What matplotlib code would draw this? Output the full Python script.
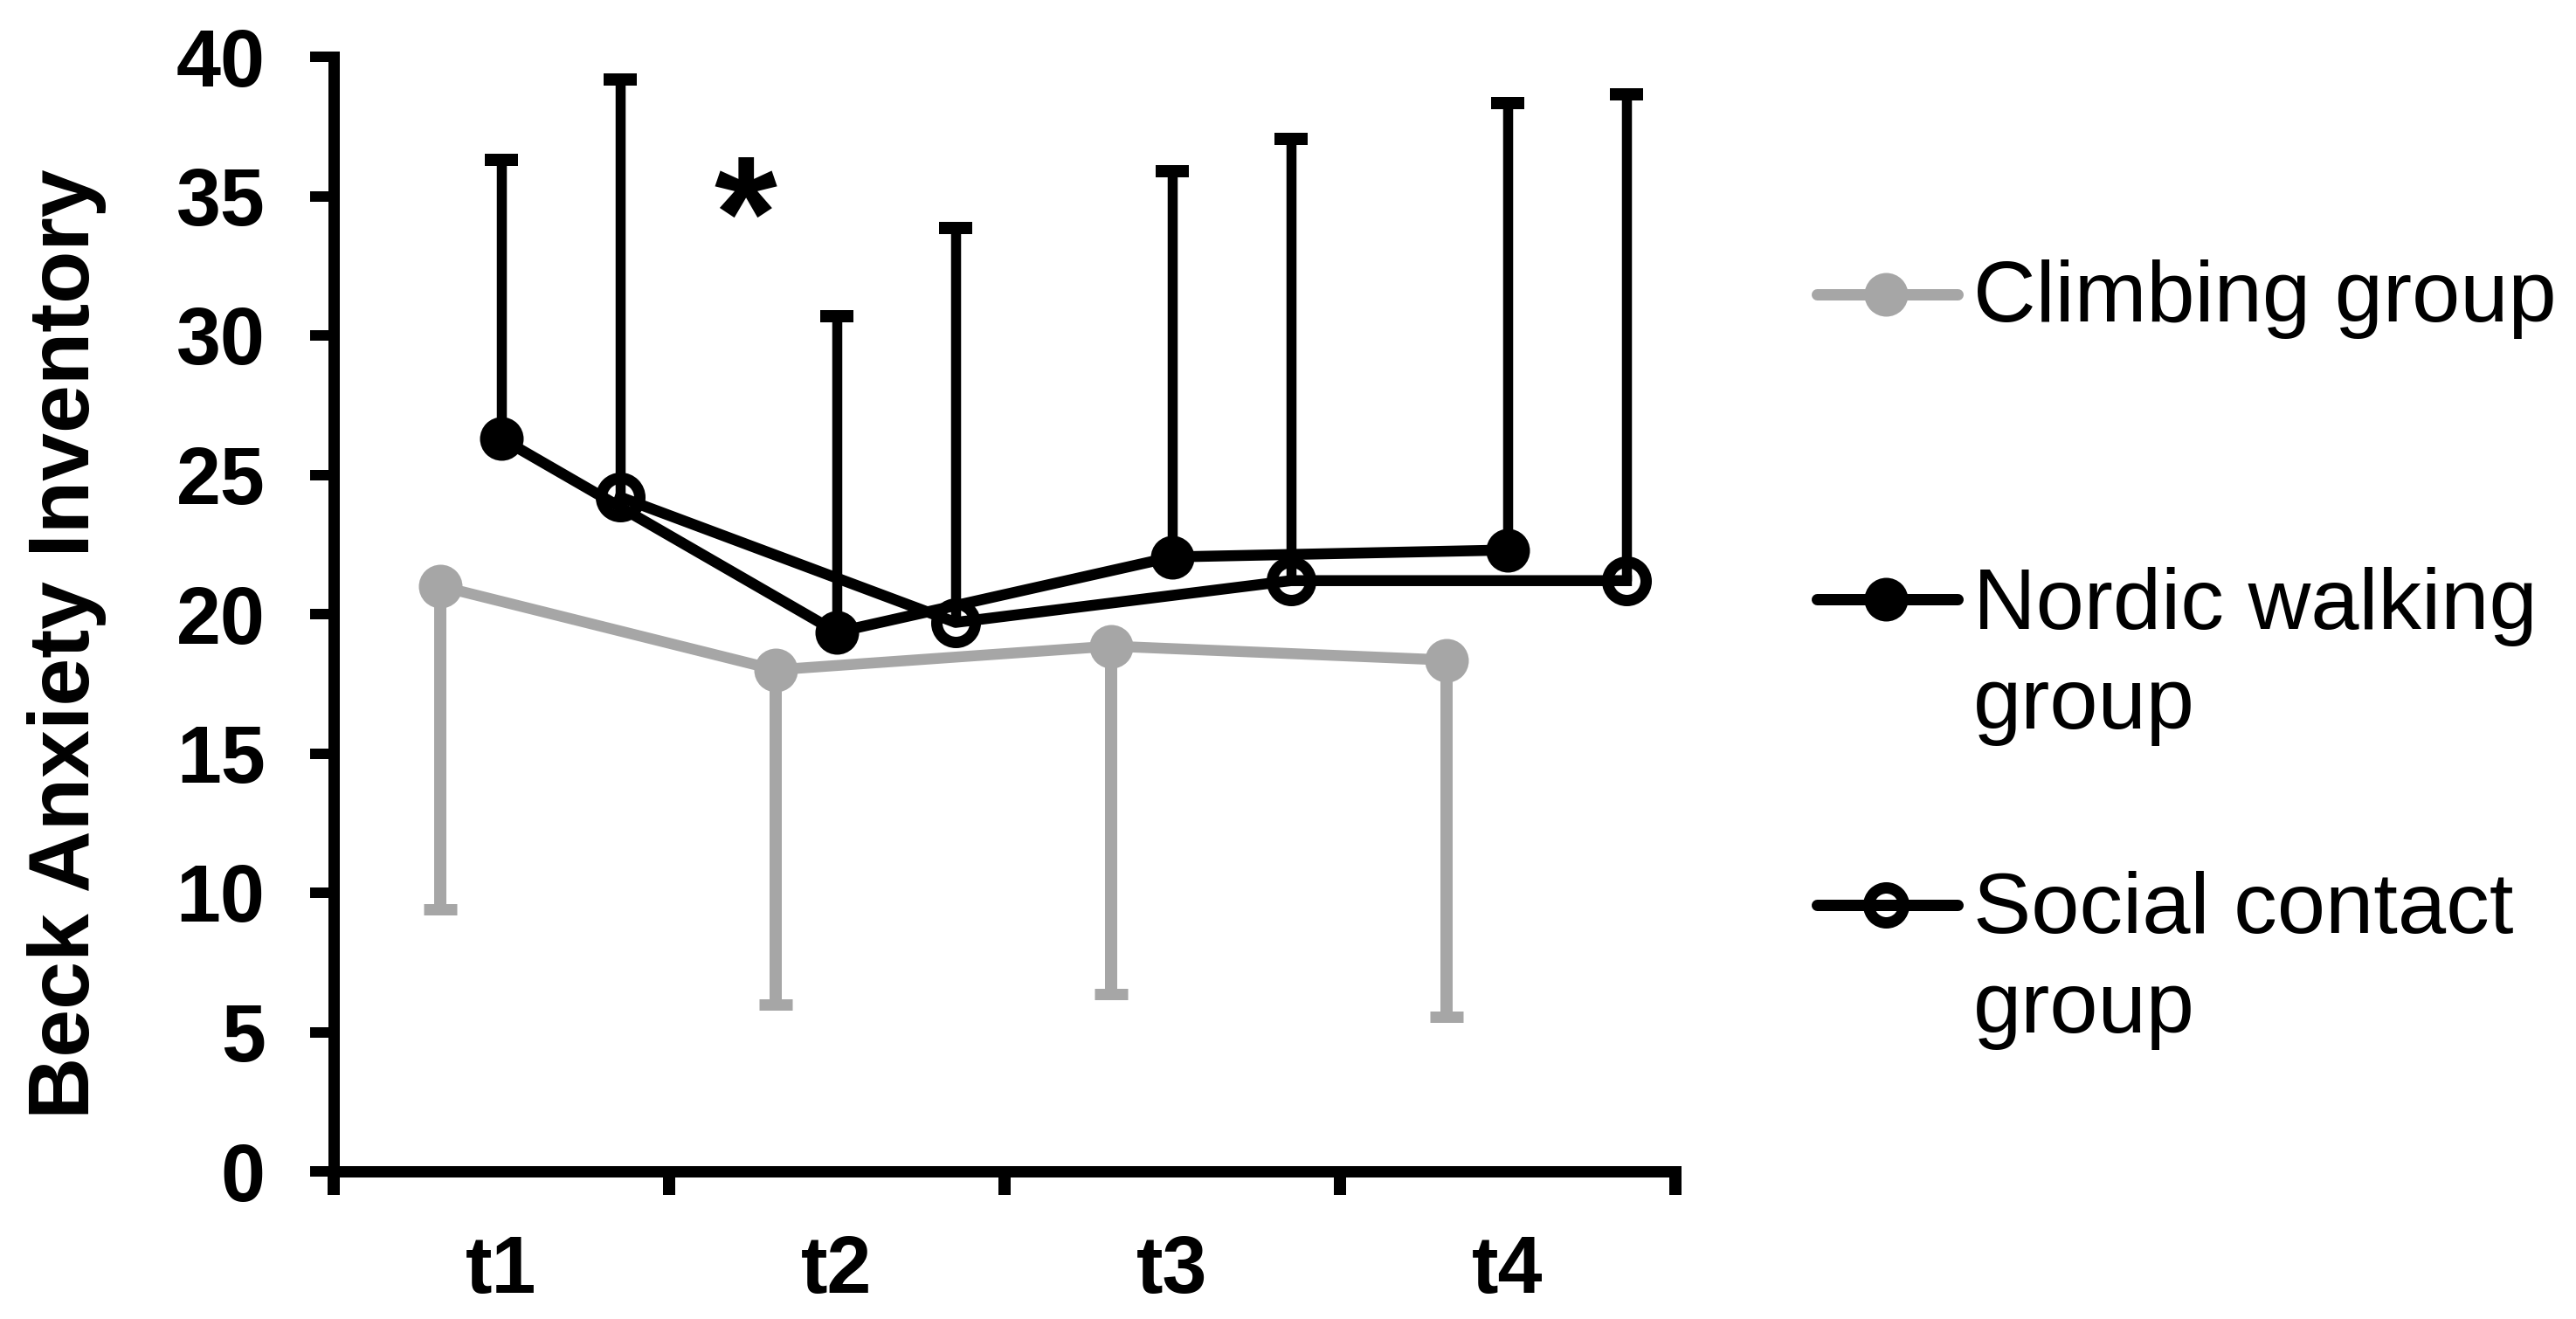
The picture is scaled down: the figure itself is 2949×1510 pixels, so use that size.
import matplotlib
matplotlib.use("Agg")
import matplotlib.pyplot as plt
from matplotlib.lines import Line2D
import numpy as np

# ---------------- data ----------------
categories = ["t1", "t2", "t3", "t4"]
y_ticks = [0, 5, 10, 15, 20, 25, 30, 35, 40]

climbing_mean = [21.0, 18.0, 18.85, 18.35]
climbing_sd = [11.6, 12.0, 12.5, 12.8]      # drawn downward

nordic_mean = [26.3, 19.35, 22.05, 22.3]
nordic_sd = [10.0, 11.35, 13.85, 16.05]     # drawn upward

social_mean = [24.2, 19.7, 21.2, 21.2]
social_sd = [15.0, 14.15, 15.85, 17.45]     # drawn upward

series_labels = ["Climbing group", "Nordic walking\ngroup", "Social contact\ngroup"]
y_label = "Beck Anxiety Inventory"
significance_mark = "*"

# ---------------- styling ----------------
plt.rcParams["font.family"] = ["Liberation Sans", "DejaVu Sans"]
W, H, DPI = 2949, 1510, 100
PX = 72.0 / DPI  # points per pixel
GRAY = "#A6A6A6"
BLACK = "#000000"

fig = plt.figure(figsize=(W / DPI, H / DPI), dpi=DPI)
ax = fig.add_axes([382 / W, 1 - 1341 / H, 1536 / W, 1276 / H])

offsets = {"climb": 0.318, "nordic": 0.5, "social": 0.854}
idx = np.arange(len(categories))
zeros = np.zeros(len(categories))

line_w = 9.0


def style_caps(eb, hide, capsize, capthick):
    caps = eb[1]
    caps[hide].set_visible(False)
    for c in caps:
        c.set_markersize(2 * capsize)
        c.set_markeredgewidth(capthick)


# Climbing group (grey, lower error bars only)
eb_c = ax.errorbar(idx + offsets["climb"], climbing_mean,
                   yerr=[climbing_sd, zeros],
                   color=GRAY, ecolor=GRAY, lw=line_w, marker="o",
                   ms=50 * PX, elinewidth=14 * PX,
                   capsize=14, capthick=13 * PX, zorder=3)
eb_c[0].set_markeredgewidth(0)
style_caps(eb_c, 1, 14, 13 * PX)

# Nordic walking group (black filled, upper error bars only)
eb_n = ax.errorbar(idx + offsets["nordic"], nordic_mean,
                   yerr=[zeros, nordic_sd],
                   color=BLACK, ecolor=BLACK, lw=line_w, marker="o",
                   ms=50 * PX, elinewidth=11.5 * PX,
                   capsize=14, capthick=14 * PX, zorder=4)
eb_n[0].set_markeredgewidth(0)
style_caps(eb_n, 0, 14, 14 * PX)

# Social contact group (black open circles, upper error bars only)
eb_s = ax.errorbar(idx + offsets["social"], social_mean,
                   yerr=[zeros, social_sd],
                   color=BLACK, ecolor=BLACK, lw=line_w, marker="o",
                   ms=44 * PX, mfc="none", mec=BLACK,
                   elinewidth=11.5 * PX,
                   capsize=14, capthick=14 * PX, zorder=4)
eb_s[0].set_markeredgewidth(13 * PX)
style_caps(eb_s, 0, 14, 14 * PX)

# axes
ax.set_xlim(0, len(categories))
ax.set_ylim(y_ticks[0], y_ticks[-1])
for s in ["top", "right"]:
    ax.spines[s].set_visible(False)
for s in ["left", "bottom"]:
    ax.spines[s].set_linewidth(13 * PX)

ax.set_yticks(y_ticks)
ax.set_yticklabels([str(v) for v in y_ticks], fontsize=66, fontweight="bold")
ax.tick_params(axis="y", direction="out", length=27 * PX, width=12 * PX, pad=37)

ax.set_xticks(np.arange(len(categories) + 1))
ax.set_xticklabels([])
ax.set_xticks(idx + 0.5, minor=True)
ax.set_xticklabels(categories, minor=True, fontsize=66, fontweight="bold")
ax.tick_params(axis="x", which="major", direction="out", length=27 * PX, width=14 * PX)
ax.tick_params(axis="x", which="minor", length=0, pad=45 * PX + 27 * PX)

# significance asterisk
ax.text(1.227, 32.4, significance_mark, fontsize=133, fontweight="bold",
        ha="center", va="baseline")

# y label
fig.text(76.5 / W, 1 - 737 / H, y_label, rotation=90, ha="center", va="center",
         fontsize=71, fontweight="bold")

# ---------------- manual legend ----------------
rows_y = [337, 686, 1036]
styles = [
    dict(color=GRAY, marker="o", ms=50 * PX, mew=0),
    dict(color=BLACK, marker="o", ms=50 * PX, mew=0),
    dict(color=BLACK, marker="o", ms=40 * PX, mew=13 * PX, mfc="none", mec=BLACK),
]
x0, xm, x1 = 2079.5, 2159, 2240.5
for yrow, st in zip(rows_y, styles):
    ln = Line2D([x0 / W, xm / W, x1 / W], [1 - yrow / H] * 3, lw=13 * PX,
                markevery=[1], solid_capstyle="round",
                transform=fig.transFigure, **st)
    fig.add_artist(ln)

text_x = 2259 / W
baselines = [[368], [720, 834], [1068, 1182]]
for lab, bls in zip(series_labels, baselines):
    for part, bl in zip(lab.split("\n"), bls):
        fig.text(text_x, 1 - bl / H, part, fontsize=71.5, ha="left", va="baseline")

fig.savefig("out.png", dpi=DPI, facecolor="white")
